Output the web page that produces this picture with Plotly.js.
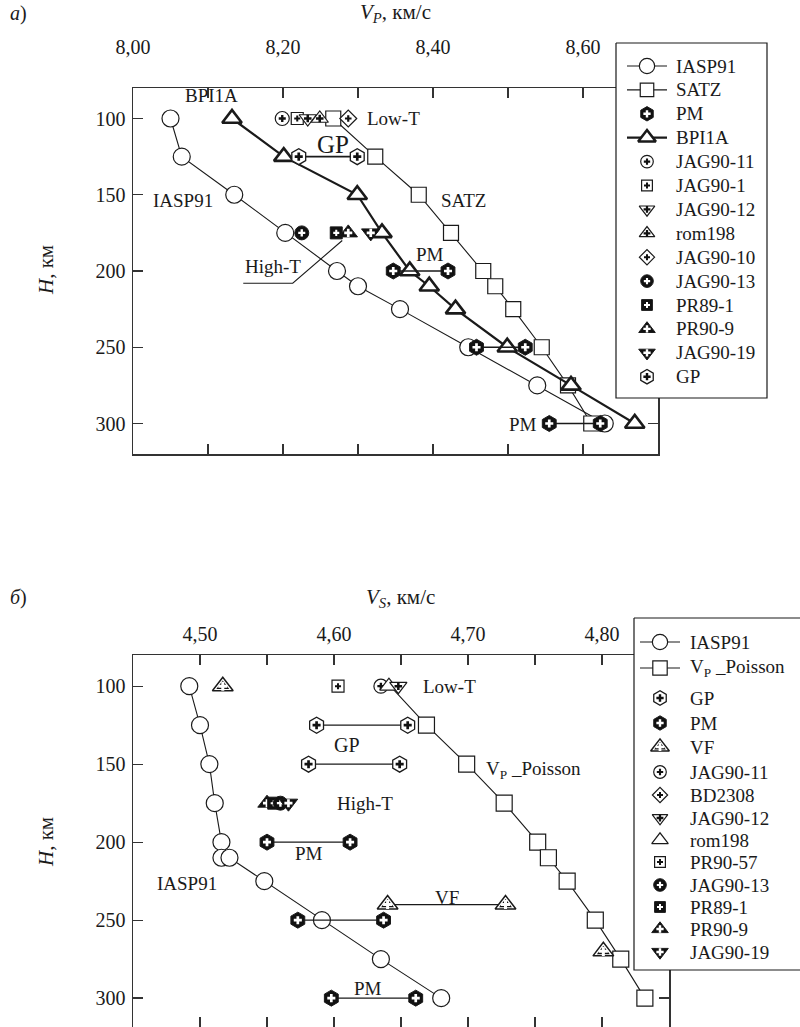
<!DOCTYPE html>
<html><head><meta charset="utf-8">
<script src="https://cdn.plot.ly/plotly-3.0.1.min.js"></script>
<style>html,body{margin:0;padding:0;background:#fff}</style>
</head><body><div id="chart" style="width:800px;height:1027px"></div>
<script>
// ================= DATA =================
// ---- Panel a: V_P, km/s vs depth H, km ----
const depthA = [100,125,150,175,200,210,225,250,275,300];
const vpIASP91 = [8.050,8.065,8.135,8.203,8.272,8.300,8.356,8.447,8.539,8.629];
const vpSATZ   = [8.267,8.323,8.381,8.424,8.467,8.483,8.507,8.545,8.580,8.611];
const vpBPI1A  = [8.132,8.201,8.299,8.332,8.369,8.395,8.430,8.499,8.584,8.669];
const gpA_depth = [125];
const gpA_lo = [8.221];
const gpA_hi = [8.299];
const pmA_depth = [200,250,300];
const pmA_lo = [8.347,8.458,8.555];
const pmA_hi = [8.420,8.523,8.623];
const sampA_names = ['JAG90-11','JAG90-1','JAG90-12','rom198','JAG90-10','JAG90-13','PR89-1','PR90-9','JAG90-19'];
const sampA_vp    = [8.199,8.219,8.233,8.249,8.287,8.225,8.271,8.287,8.317];
const sampA_depth = [100,100,100,100,100,175,175,175,175];

// ---- Panel b: V_S, km/s vs depth H, km ----
const depthB_IASP91 = [100,125,150,175,200,210,210,225,250,275,300];
const vsIASP91 = [4.492,4.500,4.507,4.511,4.516,4.516,4.522,4.548,4.591,4.635,4.680];
const depthB = [100,125,150,175,200,210,225,250,275,300];
const vsPoisson = [4.642,4.669,4.699,4.727,4.752,4.760,4.774,4.795,4.814,4.832];
const gpB_depth = [125,150];
const gpB_lo = [4.587,4.581];
const gpB_hi = [4.655,4.649];
const pmB_depth = [200,250,300];
const pmB_lo = [4.550,4.573,4.598];
const pmB_hi = [4.612,4.637,4.661];
const vfB_depth = [240];
const vfB_lo = [4.640];
const vfB_hi = [4.728];
const vfB_single_depth = [100,270];
const vfB_single = [4.517,4.801];
const sampB_names = ['PR90-57','JAG90-11','rom198b','JAG90-12','PR90-9','PR89-1','JAG90-13','JAG90-19'];
const sampB_vs    = [4.603,4.635,4.641,4.648,4.550,4.555,4.560,4.566];
const sampB_depth = [100,100,100,100,175,175,175,175];

// ---- Tick labels ----
const xTickValsA = [8.0,8.2,8.4,8.6];
const xTickTextA = ['8,00','8,20','8,40','8,60'];
const xTickValsB = [4.50,4.60,4.70,4.80];
const xTickTextB = ['4,50','4,60','4,70','4,80'];
const yTickVals = [100,150,200,250,300];

// ---- Legends ----
const legendA_keys = ['IASP91','SATZ','PM','BPI1A','JAG90-11','JAG90-1','JAG90-12','rom198','JAG90-10','JAG90-13','PR89-1','PR90-9','JAG90-19','GP'];
const legendA_text = ['IASP91','SATZ','PM','BPI1A','JAG90-11','JAG90-1','JAG90-12','rom198','JAG90-10','JAG90-13','PR89-1','PR90-9','JAG90-19','GP'];
const legendB_keys = ['IASP91','V_P_Poisson','GP','PM','VF','JAG90-11','BD2308','JAG90-12','rom198b','PR90-57','JAG90-13','PR89-1','PR90-9','JAG90-19'];
const legendB_text = ['IASP91','V<sub>P</sub> _Poisson','GP','PM','VF','JAG90-11','BD2308','JAG90-12','rom198','PR90-57','JAG90-13','PR89-1','PR90-9','JAG90-19'];

// ================= STYLES =================
const FONT = '"Liberation Serif", "Times New Roman", serif';
const INK = '#1a1a1a';
const STY = {
  'IASP91':      {sym:'circle', fill:'#fff', size:17, lw:1.2},
  'SATZ':        {sym:'square', fill:'#fff', size:15, lw:1.2},
  'V_P_Poisson': {sym:'square', fill:'#fff', size:16, lw:1.2},
  'PM':          {sym:'hexagon', fill:'#111', size:16, lw:1, cross:'#fff'},
  'GP':          {sym:'hexagon', fill:'#fff', size:16, lw:1.3, cross:'#111'},
  'BPI1A':       {sym:'triangle-up', fill:'#fff', size:17, lw:2.6},
  'JAG90-11':    {sym:'circle', fill:'#fff', size:14, lw:1.2, cross:'#111'},
  'JAG90-1':     {sym:'square', fill:'#fff', size:12, lw:1.2, cross:'#111'},
  'PR90-57':     {sym:'square', fill:'#fff', size:12, lw:1.2, cross:'#111'},
  'JAG90-12':    {sym:'triangle-down', fill:'#fff', size:15, lw:1.2, cross:'#111'},
  'rom198':      {sym:'triangle-up', fill:'#fff', size:15, lw:1.2, cross:'#111'},
  'rom198b':     {sym:'triangle-up', fill:'#fff', size:16, lw:1.2},
  'JAG90-10':    {sym:'diamond', fill:'#fff', size:13, lw:1.2, cross:'#111'},
  'BD2308':      {sym:'diamond', fill:'#fff', size:13, lw:1.2, cross:'#111'},
  'JAG90-13':    {sym:'circle', fill:'#111', size:14, lw:1, cross:'#fff'},
  'PR89-1':      {sym:'square', fill:'#111', size:12, lw:1, cross:'#fff'},
  'PR90-9':      {sym:'triangle-up', fill:'#111', size:16, lw:1, cross:'#fff'},
  'JAG90-19':    {sym:'triangle-down', fill:'#111', size:16, lw:1, cross:'#fff'},
  'VF':          {sym:'triangle-up', fill:'#fff', size:18, lw:1.5, inner:'#111', cross:'#fff'}
};
const LINE_KEYS = {'IASP91':1.1,'SATZ':1.1,'BPI1A':2.2,'V_P_Poisson':1.1};

const traces = [];
function lineTrace(xa, ya, xs, ys, w){
  traces.push({type:'scatter', mode:'lines', xaxis:xa, yaxis:ya, x:xs, y:ys,
    line:{color:INK, width:w}, connectgaps:false, hoverinfo:'skip', showlegend:false, cliponaxis:false});
}
function markerTraces(xa, ya, xs, ys, key, scale){
  scale = scale || 1;
  const s = STY[key];
  const base = {type:'scatter', mode:'markers', xaxis:xa, yaxis:ya, x:xs, y:ys,
    hoverinfo:'skip', showlegend:false, cliponaxis:false};
  traces.push(Object.assign({}, base, {marker:{symbol:s.sym, size:s.size*scale, color:s.fill,
    line:{color:INK, width:s.lw}}}));
  if (s.inner) traces.push(Object.assign({}, base, {marker:{symbol:s.sym, size:s.size*scale*0.62,
    color:s.inner, line:{width:0}}}));
  if (s.cross) traces.push(Object.assign({}, base, {marker:{symbol:'cross', size:Math.max(5, s.size*scale*0.42),
    color:s.cross, line:{width:0}}}));
}
function pairs(depths, lo, hi){
  const x=[], y=[];
  depths.forEach((d,i)=>{ x.push(lo[i],hi[i],null); y.push(d,d,null); });
  return {x, y};
}

// ================= PANEL A =================
lineTrace('x','y', vpIASP91, depthA, 1.1);
markerTraces('x','y', vpIASP91, depthA, 'IASP91');
lineTrace('x','y', vpSATZ, depthA, 1.1);
markerTraces('x','y', vpSATZ, depthA, 'SATZ');
lineTrace('x','y', vpBPI1A, depthA, 2.2);
markerTraces('x','y', vpBPI1A, depthA, 'BPI1A');
let p = pairs(gpA_depth, gpA_lo, gpA_hi);
lineTrace('x','y', p.x, p.y, 1.8);
markerTraces('x','y', p.x, p.y, 'GP');
p = pairs(pmA_depth, pmA_lo, pmA_hi);
lineTrace('x','y', p.x, p.y, 1.3);
markerTraces('x','y', p.x, p.y, 'PM');
sampA_names.forEach((n,i)=> markerTraces('x','y', [sampA_vp[i]], [sampA_depth[i]], n));

// ================= PANEL B =================
lineTrace('x2','y2', vsIASP91, depthB_IASP91, 1.1);
markerTraces('x2','y2', vsIASP91, depthB_IASP91, 'IASP91');
lineTrace('x2','y2', vsPoisson, depthB, 1.1);
markerTraces('x2','y2', vsPoisson.slice(1), depthB.slice(1), 'V_P_Poisson');
p = pairs(gpB_depth, gpB_lo, gpB_hi);
lineTrace('x2','y2', p.x, p.y, 1.2);
markerTraces('x2','y2', p.x, p.y, 'GP');
p = pairs(pmB_depth, pmB_lo, pmB_hi);
lineTrace('x2','y2', p.x, p.y, 1.2);
markerTraces('x2','y2', p.x, p.y, 'PM');
p = pairs(vfB_depth, vfB_lo, vfB_hi);
lineTrace('x2','y2', p.x, p.y, 1.2);
markerTraces('x2','y2', p.x, p.y, 'VF');
markerTraces('x2','y2', vfB_single, vfB_single_depth, 'VF');
sampB_names.forEach((n,i)=> markerTraces('x2','y2', [sampB_vs[i]], [sampB_depth[i]], n));

// ================= LEGENDS (pixel overlay axis x3/y3) =================
const annotations = [];
function buildLegend(box, keys, texts, rowY, symX, textX){
  traces.push({type:'scatter', mode:'lines', xaxis:'x3', yaxis:'y3',
    x:[box[0],box[1],box[1],box[0],box[0]], y:[box[2],box[2],box[3],box[3],box[2]],
    fill:'toself', fillcolor:'#fff', line:{color:INK, width:1.2}, hoverinfo:'skip', showlegend:false, cliponaxis:false});
  keys.forEach((k,i)=>{
    const yy = rowY(i);
    if (LINE_KEYS[k]) lineTrace('x3','y3', [symX-20, symX+20], [yy,yy], LINE_KEYS[k]);
    markerTraces('x3','y3', [symX], [yy], k, 0.9);
    annotations.push({xref:'x3', yref:'y3', x:textX, y:yy, text:texts[i], showarrow:false,
      xanchor:'left', yanchor:'middle', font:{family:FONT, size:19, color:INK}});
  });
}
buildLegend([616,767,43,398], legendA_keys, legendA_text, i=>66+23.9*i, 647, 674);
const rowsB = [642,668,698,723,747,772,795,818,840,862,885,907,929,952];
buildLegend([634,812,618,970], legendB_keys, legendB_text, i=>rowsB[i], 660, 688);

// ================= TEXT LABELS =================
function lab(xa, ya, x, y, text, size, anchor){
  annotations.push({xref:xa, yref:ya, x, y, text, showarrow:false, xanchor:anchor||'center', yanchor:'middle',
    font:{family:FONT, size:size||19, color:INK}});
}
// panel a inline labels
lab('x','y', 8.105, 85, 'BPI1A');
lab('x','y', 8.309, 100, 'Low-T', 19, 'left');
lab('x','y', 8.267, 117, 'GP', 25);
lab('x','y', 8.067, 153.5, 'IASP91');
lab('x','y', 8.440, 153.5, 'SATZ');
lab('x','y', 8.187, 197, 'High-T');
lab('x','y', 8.396, 189, 'PM');
lab('x','y', 8.520, 300.5, 'PM');
// panel b inline labels
lab('x2','y2', 4.665, 100, 'Low-T', 19, 'left');
lab('x2','y2', 4.610, 138, 'GP', 20);
lab('x2','y2', 4.601, 175, 'High-T', 19, 'left');
lab('x2','y2', 4.581, 207, 'PM');
lab('x2','y2', 4.490, 226.5, 'IASP91');
lab('x2','y2', 4.684, 235.5, 'VF');
lab('x2','y2', 4.625, 294, 'PM');
lab('x2','y2', 4.712, 153.5, 'V<sub>P</sub> _Poisson', 19, 'left');

// page-level titles (pixel coords)
lab('x3','y3', 395, 13, '<i>V<sub>P</sub></i>, км/с', 21);
lab('x3','y3', 400, 598, '<i>V<sub>S</sub></i>, км/с', 21);
lab('x3','y3', 18, 13, '<i>а</i>)', 20);
lab('x3','y3', 18, 597, '<i>б</i>)', 20);
annotations.push({xref:'x3', yref:'y3', x:46, y:270, text:'<i>H</i>, км', textangle:-90, showarrow:false,
  font:{family:FONT, size:21, color:INK}});
annotations.push({xref:'x3', yref:'y3', x:46, y:842, text:'<i>H</i>, км', textangle:-90, showarrow:false,
  font:{family:FONT, size:21, color:INK}});

// ================= LAYOUT =================
const W = 800, Hh = 1027;
const axCommon = {showline:true, linecolor:'#333', linewidth:1.5, ticks:'inside', ticklen:10, tickwidth:1.3,
  tickcolor:'#333', mirror:'allticks', showgrid:false, zeroline:false, fixedrange:true,
  tickfont:{family:FONT, size:20, color:INK}};

const layout = {
  width:W, height:Hh, margin:{l:0,r:0,t:0,b:0}, paper_bgcolor:'#fff', plot_bgcolor:'rgba(0,0,0,0)',
  showlegend:false, font:{family:FONT, color:INK},
  xaxis: Object.assign({}, axCommon, {domain:[133/W, 658/W], range:[8.0, 8.7], side:'top', anchor:'y',
    tickmode:'array', tickvals:xTickValsA, ticktext:xTickTextA, ticklabelstandoff:25,
    minor:{dtick:0.1, tick0:8.0, ticks:'inside', ticklen:10, tickwidth:1.3, tickcolor:'#333', showgrid:false}}),
  yaxis: Object.assign({}, axCommon, {domain:[1-454/Hh, 1-88/Hh], range:[320, 80], anchor:'x',
    tickmode:'array', tickvals:yTickVals, ticklabelstandoff:2}),
  xaxis2: Object.assign({}, axCommon, {domain:[133/W, 669/W], range:[4.45, 4.85], side:'top', anchor:'y2',
    tickmode:'array', tickvals:xTickValsB, ticktext:xTickTextB, ticklabelstandoff:5,
    minor:{dtick:0.05, tick0:4.5, ticks:'inside', ticklen:10, tickwidth:1.3, tickcolor:'#333', showgrid:false}}),
  yaxis2: Object.assign({}, axCommon, {domain:[0, 1-655/Hh], range:[318.5, 80], anchor:'x2',
    tickmode:'array', tickvals:yTickVals, ticklabelstandoff:2}),
  xaxis3: {domain:[0,1], range:[0,W], visible:false, fixedrange:true, anchor:'y3'},
  yaxis3: {domain:[0,1], range:[Hh,0], visible:false, fixedrange:true, anchor:'x3'},
  shapes: [
    // High-T callout line (panel a)
    {type:'path', xref:'x', yref:'y', path:'M 8.147 208 L 8.213 208 L 8.279 180',
     line:{color:INK, width:1.1}}
  ],
  annotations
};

Plotly.newPlot('chart', traces, layout, {staticPlot:true, displayModeBar:false});
</script>
</body></html>
